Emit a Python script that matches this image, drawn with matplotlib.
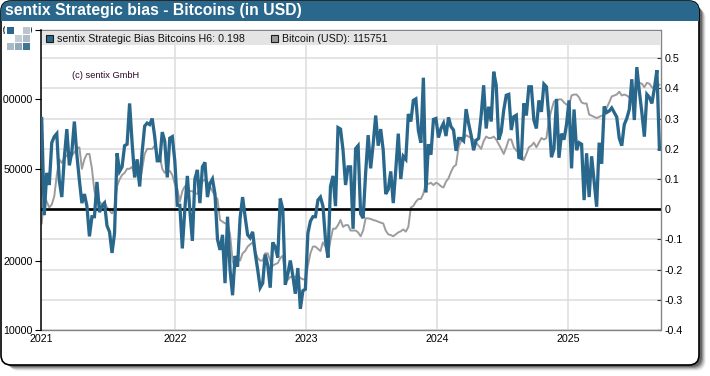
"""
sentix Strategic bias for Bitcoin against the BTC price
"""

import pandas as pd
from matplotlib import pyplot as plt
from matplotlib.patches import FancyBboxPatch, Rectangle
from matplotlib.transforms import Bbox

plt.rcParams['font.family'] = ['Liberation Sans', 'DejaVu Sans']

# weekly survey values
first_week = '2020-12-25'
bias = [
    .30, -.02, .12, .08, .22, .24, .25, .095, .04, .17,
    .265, .145, .19, .29, .18, .095, .02, .05, .01, -.09,
    -.025, -.025, .09, -.01, .01, .02, -.055, -.075, -.145, -.08,
    .185, .125, .14, .21, .215, .35, .22, .105, .165, .075,
    .19, .275, .285, .28, .30, .24, .16, .16, .255, .225,
    .105, .235, .24, .16, .013, .013, -.13, 0, .11, -.005,
    -.105, .10, .13, .02, .14, .155, .04, .085, .10, .05,
    -.10, -.135, -.085, -.245, -.025, -.20, -.285, -.155, -.19, -.03,
    .04, -.025, -.085, -.095, -.075, -.145, -.20, -.26, -.245, -.15,
    -.185, -.26, -.11, -.125, -.16, .035, 0, -.25, -.215, -.17,
    -.22, -.28, -.195, -.33, -.27, -.265, -.08, -.04, -.025, -.025,
    .03, .04, .01, -.10, -.16, .075, .11, .01, .27, .265,
    .195, .08, .14, .14, -.065, .20, .21, -.015, -.03, .12,
    .245, .135, .215, .31, .21, .265, .195, .05, .065, .125,
    .02, .13, .25, .10, .175, .165, .315, .29, .36, .365,
    .26, .22, .435, .055, .215, .18, .297, .30, .237, .267,
    .284, .242, .304, .273, .262, .193, .234, .234, .226, .331,
    .284, .245, .195, .228, .234, .31, .41, .267, .339, .29,
    .455, .41, .23, .256, .328, .377, .38, .262, .306, .311,
    .171, .168, .35, .31, .405, .405, .295, .267, .36, .322,
    .414, .405, .30, .172, .20, .365, .17, .25, .23, .28,
    .36, .135, .33, .195, .22, .215, .03, .185, .04, .175,
    .09, .008, .22, .15, .34, .32, .325, .335, .32, .305,
    .235, .21, .28, .30, .33, .43, .295, .47, .39, .32,
    .24, .38, .37, .35, .40, .46, .198,
]

price = [
    29000, 38000, 36000, 34000, 35000, 38000, 47000, 55000, 53000, 56000,
    57000, 59000, 57000, 59000, 61000, 62000, 50000, 55000, 58000, 58000,
    50000, 40000, 37000, 36000, 35000, 36000, 34000, 33000, 32000, 34000,
    42000, 45000, 47000, 48000, 50000, 50000, 51000, 47000, 47000, 43000,
    50000, 58000, 61000, 61000, 61000, 63000, 57000, 57000, 50000, 48000,
    49000, 49000, 47000, 43000, 41000, 36000, 40000, 42000, 42000, 40000,
    40000, 39000, 39000, 42000, 44000, 45000, 44000, 42000, 40000, 38000,
    37000, 30000, 29500, 29000, 29000, 26000, 20000, 18500, 20500, 20000,
    21500, 22000, 23000, 23500, 24000, 22000, 20500, 20000, 20000, 21500,
    21500, 20000, 19000, 19300, 19500, 20500, 21000, 17000, 16500, 17000,
    17000, 17000, 17300, 16800, 16600, 16500, 19000, 21500, 23000, 23000,
    22500, 22000, 24000, 23000, 21000, 24500, 27500, 27500, 28500, 30000,
    28000, 28500, 28500, 27000, 27000, 27000, 26500, 25500, 27000, 30500,
    30500, 30300, 30000, 29800, 29500, 29200, 29000, 27000, 26000, 25800,
    25500, 26000, 26500, 26800, 27300, 26700, 28000, 34000, 34500, 36000,
    37000, 37000, 39000, 43500, 43000, 43500, 42500, 43500, 43000, 42000,
    41500, 44000, 45500, 48500, 51000, 52000, 62000, 66000, 67000, 70000,
    69000, 68000, 67000, 65000, 63000, 61000, 66000, 69000, 68000, 68000,
    69000, 67000, 64000, 61000, 58000, 62000, 67000, 67000, 62000, 60000,
    59000, 58000, 54500, 58000, 62000, 63000, 65000, 62000, 65000, 68000,
    67000, 68000, 82000, 90000, 98000, 99000, 100000, 100000, 97000, 95000,
    94000, 104000, 105000, 105000, 102000, 97000, 96000, 96000, 86000, 85000,
    84000, 83000, 84000, 85000, 85000, 92000, 97000, 103000, 104000, 105000,
    108000, 104000, 105000, 104000, 102000, 107000, 108000, 117000, 118000, 117000,
    113000, 118000, 117000, 113000, 111000, 114000, 115751,
]

bias_ticks = [-.4, -.3, -.2, -.1, 0, .1, .2, .3, .4, .5]
bias_labels = ['-0.4', '-0.3', '-0.2', '-0.1', '0', '0.1', '0.2', '0.3', '0.4', '0.5']
price_ticks = [10000, 20000, 50000, 100000, 200000]
year_ticks = ['2020-12-23', '2022-01-01', '2023-01-01', '2024-01-01', '2025-01-01']
year_labels = ['2021', '2022', '2023', '2024', '2025']

title = 'sentix Strategic bias - Bitcoins (in USD)'
label_bias = 'sentix Strategic Bias Bitcoins H6: 0.198'
label_price = 'Bitcoin (USD): 115751'
copyright_text = '(c) sentix GmbH'

blue = '#29688c'
gray = '#9c9c9c'
W, H = 710, 376

weeks = pd.date_range(first_week, periods=len(bias), freq='7D')
xlim = pd.to_datetime(['2020-12-23', '2025-09-15'])

fig = plt.figure(figsize=(W/100, H/100), dpi=100)

# card behind everything, in pixel coordinates
bg = fig.add_axes([0, 0, 1, 1], zorder=0)
bg.set_xlim(0, W)
bg.set_ylim(H, 0)
bg.axis('off')
for off, alpha in [(7, 0.05), (6, 0.1), (5, 0.15), (4, 0.2), (3, 0.3)]:
    bg.add_patch(FancyBboxPatch((2+off, 2+off), 697, 362,
        boxstyle='round,pad=0,rounding_size=10', fc='k', ec='none', alpha=alpha))
bg.add_patch(FancyBboxPatch((1, 1), 698, 364, boxstyle='round,pad=0,rounding_size=10',
    fc='w', ec='k', lw=1.2))
head = FancyBboxPatch((1, 1), 698, 364, boxstyle='round,pad=0,rounding_size=10',
    fc=blue, ec='none')
bg.add_patch(head)
head.set_clip_path(Rectangle((0, 0), W, 21, transform=bg.transData))
bg.text(5, 11, title, color='w', fontweight='bold', fontsize=11.3, va='center', ha='left')

pos = [41/W, 1 - 330/H, 619.5/W, 300/H]

# bottom layer has the grid and the right axis
ax = fig.add_axes(pos, zorder=1)
ax.set_xlim(xlim)
ax.set_ylim(-.4, .593)
ax.patch.set_alpha(0)
ax.set_yticks(bias_ticks, bias_labels, fontsize=7.7)
ax.set_xticks(pd.to_datetime(year_ticks), year_labels, fontsize=7.7)
ax.grid(color='#dcdcdc', lw=1.1)
ax.set_axisbelow(True)
for side in ['top', 'right', 'bottom']:
    ax.spines[side].set_color('#858585')
    ax.spines[side].set_linewidth(1)
ax.spines['left'].set_visible(False)

axp = ax.twinx()
axp.set_zorder(2)
axp.patch.set_visible(False)
axp.set_yscale('log')
axp.set_ylim(10000, 199000)
axp.plot(weeks, price, color=gray, lw=1.4, solid_joinstyle='round')
axp.yaxis.tick_left()
axp.set_yticks(price_ticks, [str(t) for t in price_ticks], fontsize=7.7)
axp.minorticks_off()
axp.tick_params(axis='y', length=4, width=0.8, pad=2, color='k')
for side in ['top', 'right', 'bottom']:
    axp.spines[side].set_visible(False)
axp.spines['left'].set_visible(True)
axp.spines['left'].set_color('k')
axp.spines['left'].set_linewidth(1.1)
clip = Bbox([[3, 0], [W, H]])
for lab in axp.get_yticklabels():
    lab.set_clip_box(clip)
    lab.set_clip_on(True)

axb = ax.twinx()
axb.set_zorder(3)
axb.patch.set_visible(False)
axb.set_ylim(ax.get_ylim())
axb.axhline(0, color='k', lw=1.9, zorder=3)
axb.plot(weeks, bias, color=blue, lw=2.35, solid_joinstyle='miter', zorder=4)
axb.set_yticks([])
axb.axis('off')

# twinx moves the ticks of the first axes, put them back on the right
ax.yaxis.tick_right()
ax.tick_params(axis='x', length=0, pad=3)
ax.tick_params(axis='y', direction='in', length=3.2, width=0.8, pad=3, color='#303030')

# legend band, logo and note on top
fg = fig.add_axes([0, 0, 1, 1], zorder=4)
fg.set_xlim(0, W)
fg.set_ylim(H, 0)
fg.axis('off')
fg.add_patch(Rectangle((42, 31), 618, 14, fc='#e4e4e4', ec='none'))
fg.add_patch(Rectangle((45.5, 34.5), 7.5, 7.5, fc=blue, ec='#1c1c1c', lw=0.8))
fg.add_patch(Rectangle((270.5, 34.5), 7.5, 7.5, fc='#999999', ec='#1c1c1c', lw=0.8))
fg.text(57, 38.5, label_bias, fontsize=7.65, va='center', color='#111111')
fg.text(281.5, 38.5, label_price, fontsize=7.65, va='center', color='#111111')
fg.text(72.5, 76, copyright_text, fontsize=6.7, va='center', color='#2a0a2a')

fg.add_patch(Rectangle((5, 24), 26, 26, fc='w', ec='none'))
logo_cells = [(7, 27, blue), (23, 27, '#b9c6cf'), (15, 35, '#c3ced6'), (23, 35, '#aebdc8'),
    (7, 43, '#a9bac6'), (15, 43, '#93a9b8'), (23, 43, '#3f7696')]
for cx, cy, col in logo_cells:
    fg.add_patch(Rectangle((cx, cy), 6.5, 6.5, fc=col, ec='none'))

fig.savefig('out.png', dpi=100)
